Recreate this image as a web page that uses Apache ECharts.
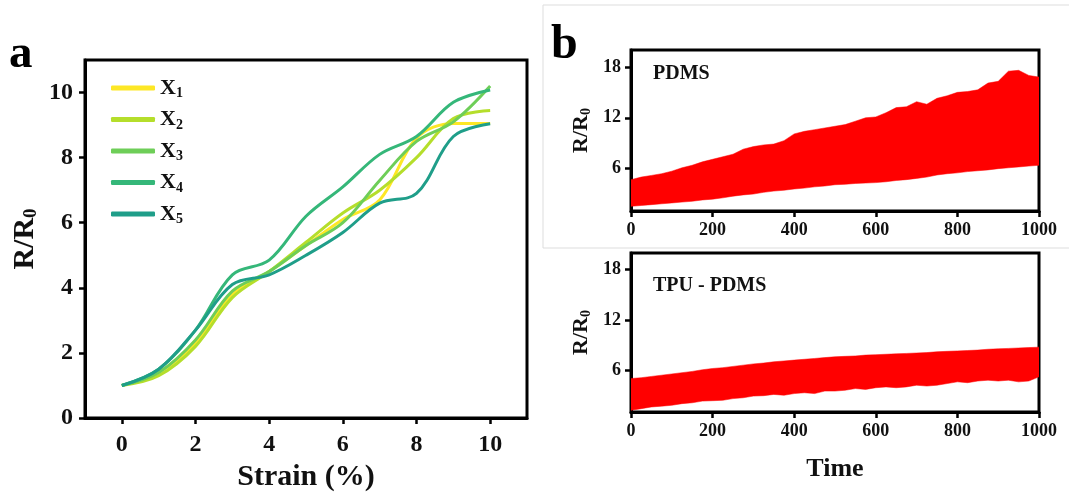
<!DOCTYPE html>
<html>
<head>
<meta charset="utf-8">
<script src="https://cdn.jsdelivr.net/npm/echarts@6/dist/echarts.min.js"></script>
<style>
    html, body { margin: 0; padding: 0; background: #fff; }
    #chart { width: 1069px; height: 493px; }
</style>
</head>
<body>
<div id="chart"></div>
<script>
// panel a: R/R0 vs strain
var strain = [0, 1, 2, 3, 4, 5, 6, 7, 8, 9, 10];
var seriesNames = ['X1', 'X2', 'X3', 'X4', 'X5'];
var x1 = [1.0, 1.4, 2.3, 3.8, 4.5, 5.3, 6.1, 6.7, 8.6, 9.05, 9.05];
var x2 = [1.0, 1.3, 2.2, 3.7, 4.5, 5.4, 6.3, 7.0, 8.0, 9.2, 9.45];
var x3 = [1.0, 1.4, 2.4, 3.9, 4.5, 5.3, 6.0, 7.3, 8.5, 9.1, 10.2];
var x4 = [1.0, 1.5, 2.7, 4.4, 4.85, 6.2, 7.1, 8.1, 8.65, 9.7, 10.08];
var x5 = [1.0, 1.5, 2.7, 4.1, 4.4, 5.0, 5.7, 6.6, 6.9, 8.65, 9.04];
var lineColors = ['#fde725', '#b5de2b', '#6ece58', '#35b779', '#1f9e89'];
var strainTicks = [0, 2, 4, 6, 8, 10];
var ratioTicks = [0, 2, 4, 6, 8, 10];

// panel b: envelope of cyclic R/R0 vs time
var time = [0, 25, 50, 75, 100, 125, 150, 175, 200, 225, 250, 275, 300, 325, 350, 375, 400,
    425, 450, 475, 500, 525, 550, 575, 600, 625, 650, 675, 700, 725, 750, 775, 800,
    825, 850, 875, 900, 925, 950, 975, 1000];
var pdmsUpper = [4.7, 5.0, 5.2, 5.4, 5.7, 6.1, 6.4, 6.8, 7.1, 7.4, 7.7, 8.3, 8.6, 8.8, 8.9, 9.3, 10.1,
    10.4, 10.6, 10.8, 11.0, 11.2, 11.6, 12.0, 12.1, 12.6, 13.2, 13.3, 13.9, 13.6, 14.3, 14.6, 15.0,
    15.1, 15.3, 16.1, 16.3, 17.5, 17.6, 17.0, 16.8];
var pdmsLower = [1.55, 1.65, 1.75, 1.85, 1.95, 2.05, 2.15, 2.3, 2.4, 2.55, 2.75, 2.9, 3.0, 3.2, 3.35, 3.45, 3.6,
    3.7, 3.85, 3.95, 4.1, 4.15, 4.25, 4.3, 4.35, 4.45, 4.6, 4.7, 4.85, 5.0, 5.25, 5.4, 5.5,
    5.65, 5.75, 5.85, 6.0, 6.1, 6.2, 6.3, 6.4];
var tpuUpper = [5.0, 5.1, 5.25, 5.4, 5.55, 5.7, 5.85, 6.05, 6.2, 6.3, 6.45, 6.6, 6.75, 6.85, 7.0, 7.1, 7.2,
    7.3, 7.4, 7.5, 7.6, 7.65, 7.7, 7.8, 7.85, 7.9, 7.95, 8.0, 8.05, 8.1, 8.2, 8.25, 8.3,
    8.35, 8.4, 8.5, 8.55, 8.6, 8.65, 8.7, 8.75];
var tpuLower = [1.2, 1.4, 1.6, 1.7, 1.8, 2.0, 2.1, 2.3, 2.35, 2.4, 2.6, 2.7, 2.9, 2.95, 3.1, 3.0, 3.2,
    3.3, 3.2, 3.5, 3.5, 3.6, 3.8, 3.7, 3.9, 4.0, 3.9, 4.0, 4.2, 4.1, 4.2, 4.4, 4.6,
    4.5, 4.7, 4.8, 4.7, 4.8, 4.6, 4.7, 5.2];
var timeTicks = [0, 200, 400, 600, 800, 1000];
var cycleTicks = [6, 12, 18];

var serif = '"Liberation Serif", "Times New Roman", serif';
var ratioName = '{m|R/R}{s|0}';

function pairs(xs, ys) {
    return xs.map(function (x, i) { return [x, ys[i]]; });
}

function valueAxis(opt) {
    var base = {
        type: 'value',
        gridIndex: opt.grid,
        min: opt.min,
        max: opt.max,
        splitLine: { show: false },
        axisLine: { show: true, onZero: false, lineStyle: { color: '#000', width: 3 } },
        axisTick: { show: true, length: 6, customValues: opt.ticks, lineStyle: { color: '#000', width: 2.5 } },
        axisLabel: {
            customValues: opt.ticks,
            margin: opt.margin,
            color: '#111',
            fontFamily: serif,
            fontWeight: 'bold',
            fontSize: opt.fontSize,
            formatter: function (v) { return String(v); }
        }
    };
    if (opt.name) {
        base.name = opt.name;
        base.nameLocation = 'middle';
        base.nameGap = opt.nameGap;
        base.nameTextStyle = opt.nameStyle;
    }
    return base;
}

function ratioNameStyle(size, sub, pad) {
    return {
        color: '#111',
        rich: {
            m: { fontFamily: serif, fontWeight: 'bold', fontSize: size, color: '#111' },
            s: { fontFamily: serif, fontWeight: 'bold', fontSize: sub, color: '#111', padding: [pad, 0, 0, 0] }
        }
    };
}

var curves = [x1, x2, x3, x4, x5];
var lineSeries = curves.map(function (vals, i) {
    return {
        name: seriesNames[i],
        type: 'line',
        xAxisIndex: 0,
        yAxisIndex: 0,
        smooth: 0.35,
        showSymbol: false,
        symbol: 'none',
        lineStyle: { width: 3, color: lineColors[i] },
        itemStyle: { color: lineColors[i] },
        data: pairs(strain, vals)
    };
});

// 用上下包络围成一个红色多边形，坐标经由轴换算
function bandSeries(axisIdx, up, low) {
    return {
        type: 'custom',
        xAxisIndex: axisIdx,
        yAxisIndex: axisIdx,
        clip: true,
        data: [[time[0], low[0]]],
        renderItem: function (params, api) {
            var pts = [];
            for (var i = 0; i < time.length; i++) {
                pts.push(api.coord([time[i], up[i]]));
            }
            for (var j = time.length - 1; j >= 0; j--) {
                pts.push(api.coord([time[j], low[j]]));
            }
            return {
                type: 'polygon',
                shape: { points: pts },
                style: { fill: '#ff0000', stroke: '#ff0000', lineWidth: 0.5 }
            };
        }
    };
}

var chart = echarts.init(document.getElementById('chart'));

var gridBase = { show: true, borderColor: '#000', borderWidth: 3, containLabel: false, outerBoundsMode: 'none' };

var option = {
    backgroundColor: '#fff',
    animation: false,
    grid: [
        Object.assign({ left: 85, top: 60, width: 442, height: 358 }, gridBase),
        Object.assign({ left: 631, top: 50, width: 408, height: 161 }, gridBase),
        Object.assign({ left: 631, top: 253, width: 408, height: 159 }, gridBase)
    ],
    legend: {
        left: 106,
        top: 72,
        orient: 'vertical',
        icon: 'roundRect',
        itemWidth: 44,
        itemHeight: 5,
        itemGap: 8,
        data: seriesNames,
        formatter: function (name) {
            return '{m|X}{s|' + name.slice(1) + '}';
        },
        textStyle: {
            rich: {
                m: { fontFamily: serif, fontWeight: 'bold', fontSize: 22, color: '#111', lineHeight: 26 },
                s: { fontFamily: serif, fontWeight: 'bold', fontSize: 14, color: '#111', padding: [11, 0, 0, 0] }
            }
        }
    },
    xAxis: [
        valueAxis({
            grid: 0, min: -1, max: 11, ticks: strainTicks, margin: 15, fontSize: 24,
            name: 'Strain (%)', nameGap: 44,
            nameStyle: { fontFamily: serif, fontWeight: 'bold', fontSize: 30, color: '#111' }
        }),
        valueAxis({ grid: 1, min: 0, max: 1000, ticks: timeTicks, margin: 10, fontSize: 18 }),
        valueAxis({
            grid: 2, min: 0, max: 1000, ticks: timeTicks, margin: 10, fontSize: 18,
            name: 'Time', nameGap: 44,
            nameStyle: { fontFamily: serif, fontWeight: 'bold', fontSize: 26, color: '#111' }
        })
    ],
    yAxis: [
        valueAxis({
            grid: 0, min: 0, max: 11, ticks: ratioTicks, margin: 12, fontSize: 24,
            name: ratioName, nameGap: 44, nameStyle: ratioNameStyle(30, 19, 12)
        }),
        valueAxis({
            grid: 1, min: 1, max: 20, ticks: cycleTicks, margin: 10, fontSize: 18,
            name: ratioName, nameGap: 38, nameStyle: ratioNameStyle(22, 14, 10)
        }),
        valueAxis({
            grid: 2, min: 1, max: 20, ticks: cycleTicks, margin: 10, fontSize: 18,
            name: ratioName, nameGap: 38, nameStyle: ratioNameStyle(22, 14, 10)
        })
    ],
    graphic: [
        // 截图留下的浅灰边框
        { type: 'line', shape: { x1: 543, y1: 5, x2: 543, y2: 248 }, style: { stroke: '#dddddd', lineWidth: 1 } },
        { type: 'line', shape: { x1: 543, y1: 5, x2: 1069, y2: 5 }, style: { stroke: '#dddddd', lineWidth: 1 } },
        { type: 'line', shape: { x1: 543, y1: 248, x2: 1069, y2: 248 }, style: { stroke: '#dddddd', lineWidth: 1 } },
        { type: 'text', left: 9, top: 31, style: { text: 'a', font: 'bold 47px ' + serif, fill: '#000' } },
        { type: 'text', left: 551, top: 22, style: { text: 'b', font: 'bold 48px ' + serif, fill: '#000' } },
        { type: 'text', left: 653, top: 64, style: { text: 'PDMS', font: 'bold 20px ' + serif, fill: '#111' } },
        { type: 'text', left: 653, top: 276, style: { text: 'TPU - PDMS', font: 'bold 20px ' + serif, fill: '#111' } }
    ],
    series: lineSeries.concat([
        bandSeries(1, pdmsUpper, pdmsLower),
        bandSeries(2, tpuUpper, tpuLower)
    ])
};

chart.setOption(option);
</script>
</body>
</html>
